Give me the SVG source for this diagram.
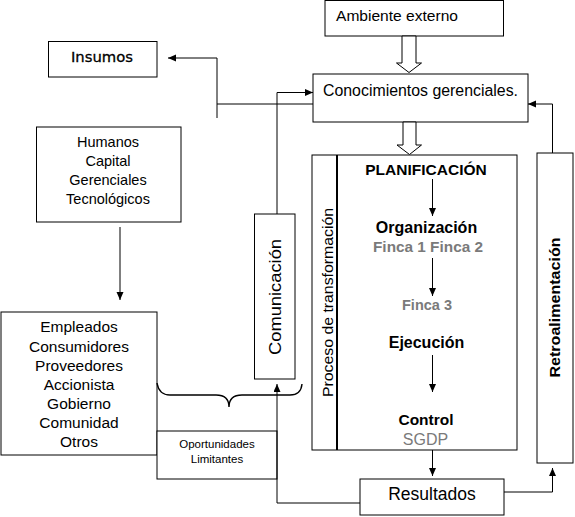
<svg xmlns="http://www.w3.org/2000/svg" width="575" height="517" viewBox="0 0 575 517">
<defs>
<marker id="ah" markerUnits="userSpaceOnUse" markerWidth="9" markerHeight="8" refX="8" refY="3.5" orient="auto">
<path d="M0,0 L8,3.5 L0,7 z" fill="#000"/>
</marker>
</defs>
<style>
.box{fill:#fff;stroke:#000;stroke-width:1}
.ln{fill:none;stroke:#000;stroke-width:1}
.t{font-family:"Liberation Sans",Arial,sans-serif;fill:#000;font-weight:normal}
.b{font-weight:bold}
.g{fill:#7a7a7a}
.c{text-anchor:middle}
</style>
<rect width="575" height="517" fill="#fff"/>
<g id="ambiente">
<rect class="box" x="325" y="0.5" width="178.5" height="35.5"/>
<text class="t" x="336" y="21" font-size="14.5" textLength="122" lengthAdjust="spacingAndGlyphs">Ambiente externo</text>
</g>
<g id="conocimientos">
<rect class="box" x="313" y="74" width="215" height="48"/>
<text class="t" x="323" y="96" font-size="16" textLength="195" lengthAdjust="spacingAndGlyphs">Conocimientos gerenciales.</text>
</g>
<g id="insumos">
<rect class="box" x="48.5" y="41.5" width="108.5" height="35.5"/>
<text x="102" y="62" font-family="'DejaVu Sans',Verdana,sans-serif" font-size="14.5" text-anchor="middle" stroke="#000" stroke-width="0.3" textLength="62" lengthAdjust="spacingAndGlyphs">Insumos</text>
</g>
<g id="humanos">
<rect class="box" x="36.5" y="127" width="144.5" height="95"/>
<text class="t c" x="108" y="147" font-size="14.5">Humanos</text>
<text class="t c" x="108" y="166" font-size="14.5">Capital</text>
<text class="t c" x="108" y="185" font-size="14.5">Gerenciales</text>
<text class="t c" x="108" y="204" font-size="14.5">Tecnológicos</text>
</g>
<g id="stakeholders">
<rect class="box" x="1" y="312" width="156" height="143"/>
<text class="t c" x="79" y="332" font-size="15.5">Empleados</text>
<text class="t c" x="79" y="351.5" font-size="15.5">Consumidores</text>
<text class="t c" x="79" y="370.5" font-size="15.5">Proveedores</text>
<text class="t c" x="79" y="390" font-size="15.5">Accionista</text>
<text class="t c" x="79" y="409" font-size="15.5">Gobierno</text>
<text class="t c" x="79" y="428" font-size="15.5">Comunidad</text>
<text class="t c" x="79" y="447" font-size="15.5">Otros</text>
</g>
<g id="oportunidades">
<rect class="box" x="157" y="431" width="120" height="48"/>
<text class="t c" x="217" y="448" font-size="11.5">Oportunidades</text>
<text class="t c" x="217" y="462.5" font-size="11.5">Limitantes</text>
</g>
<g id="comunicacion">
<rect class="box" x="254.5" y="214" width="40.5" height="165"/>
<text class="t c" font-size="16" transform="translate(281,297) rotate(-90)" textLength="116" lengthAdjust="spacingAndGlyphs">Comunicación</text>
</g>
<g id="proceso">
<rect class="box" x="312" y="155" width="205" height="295"/>
<line x1="337" y1="155" x2="337" y2="450" stroke="#000" stroke-width="2"/>
<text class="t c" font-size="15" transform="translate(333,302.5) rotate(-90)" textLength="189" lengthAdjust="spacingAndGlyphs">Proceso de transformación</text>
<text class="t b c" x="426" y="175" font-size="15.5">PLANIFICACIÓN</text>
<text class="t b c" x="426.5" y="233" font-size="16">Organización</text>
<text class="t b c g" x="428" y="252" font-size="14.5" textLength="110" lengthAdjust="spacingAndGlyphs">Finca 1 Finca 2</text>
<text class="t b c g" x="427" y="310" font-size="14.5">Finca 3</text>
<text class="t b c" x="426.5" y="348" font-size="16">Ejecución</text>
<text class="t b c" x="426" y="425" font-size="15.5">Control</text>
<text class="t c g" x="425.5" y="445" font-size="16">SGDP</text>
</g>
<g id="retroalimentacion">
<rect class="box" x="537" y="153" width="36" height="310"/>
<text class="t b c" font-size="15" transform="translate(560,307.5) rotate(-90)" textLength="140" lengthAdjust="spacingAndGlyphs">Retroalimentación</text>
</g>
<g id="resultados">
<rect class="box" x="360" y="479" width="144" height="36"/>
<text class="t c" x="432" y="500" font-size="17.5">Resultados</text>
</g>
<g id="connectors">
<path class="ln" d="M313,104 H217"/>
<path class="ln" d="M217,118 V58 H168" marker-end="url(#ah)"/>
<path class="ln" d="M277,214 V92.5 H313" marker-end="url(#ah)"/>
<path class="ln" d="M120,227 V300" marker-end="url(#ah)"/>
<path class="ln" d="M552.5,153 V104 H528" marker-end="url(#ah)"/>
<path class="ln" d="M504,492 H552.5 V468" marker-end="url(#ah)"/>
<path class="ln" d="M432.5,450 V476" marker-end="url(#ah)"/>
<path class="ln" d="M432.5,179 V216" marker-end="url(#ah)"/>
<path class="ln" d="M432.5,258 V296" marker-end="url(#ah)"/>
<path class="ln" d="M432.5,355 V392" marker-end="url(#ah)"/>
<path class="ln" d="M360,503 H277 V384" marker-end="url(#ah)"/>
<path class="ln" style="stroke-width:1.4" d="M157,383 Q159,395 170,395 H216 Q229,395 229,407 Q229,395 242,395 H290 Q301,395 302,384"/>
<polygon class="box" points="402,36 416,36 416,63 421.5,63 409,72.5 396.5,63 402,63"/>
<polygon class="box" points="403,122 416,122 416,145 421.5,145 409.5,154.5 397,145 403,145"/>
</g>
</svg>
